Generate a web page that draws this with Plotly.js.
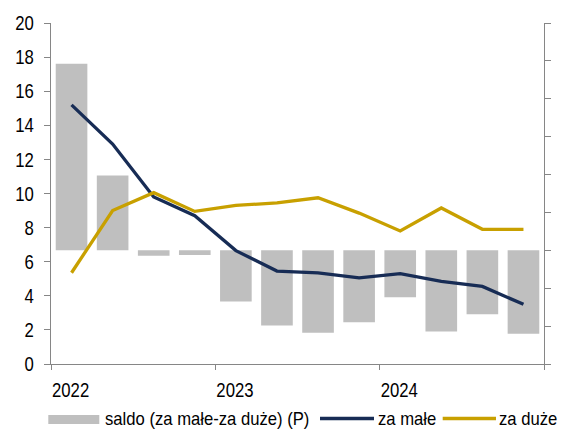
<!DOCTYPE html>
<html>
<head>
<meta charset="utf-8">
<script src="https://cdn.plot.ly/plotly-3.0.1.min.js"></script>
<style>html,body{margin:0;padding:0;background:#fff;}#chart{width:562px;height:429px;}</style>
</head>
<body>
<div id="chart"></div>
<script>
// Data
const periods = ["2022 Q1","2022 Q2","2022 Q3","2022 Q4","2023 Q1","2023 Q2","2023 Q3","2023 Q4","2024 Q1","2024 Q2","2024 Q3","2024 Q4"];
const zaMale = [15.2, 12.9, 9.8, 8.7, 6.65, 5.45, 5.35, 5.05, 5.3, 4.85, 4.55, 3.5];
const zaDuze = [5.35, 9.0, 10.05, 8.95, 9.3, 9.45, 9.75, 8.85, 7.8, 9.15, 7.9, 7.9];
const saldo = [9.85, 3.95, -0.28, -0.25, -2.7, -3.97, -4.35, -3.8, -2.47, -4.28, -3.37, -4.4];
const yearLabels = ["2022", "2023", "2024", ""];
const legendNames = ["saldo (za małe-za duże) (P)", "za małe", "za duże"];

const FONT = "'Liberation Sans', Arial, sans-serif";
const FSIZE = 20.4;
const SQUISH = 0.82;      // emulate a narrow face for tick labels
const LEG_FSIZE = 18.2;
const LEG_SQUISH = 0.915; // legend text
const NAVY = "#172c55";
const GOLD = "#c8a000";
const GREY = "#bfbfbf";
const AXIS = "#868686";

const xIdx = periods.map((_, i) => i);

const traces = [
  {type: "bar", x: xIdx, y: saldo, yaxis: "y", width: 0.77,
   marker: {color: GREY, line: {width: 0}}, name: legendNames[0], hoverinfo: "y"},
  {type: "scatter", mode: "lines", x: xIdx, y: zaMale, yaxis: "y2",
   line: {color: NAVY, width: 3.3}, name: legendNames[1]},
  {type: "scatter", mode: "lines", x: xIdx, y: zaDuze, yaxis: "y2",
   line: {color: GOLD, width: 3.3}, name: legendNames[2]}
];

const L = 51, R = 18, T = 23, B = 65, W = 562 - L - R, H = 429 - T - B;
const px = v => (v - L) / W;
const py = v => (429 - B - v) / H;

const shapes = [
  {type: "rect", xref: "paper", yref: "paper", x0: px(48.3), x1: px(99.3), y0: py(415), y1: py(424),
   fillcolor: GREY, line: {width: 0}},
  {type: "line", xref: "paper", yref: "paper", x0: px(320), x1: px(374), y0: py(418.5), y1: py(418.5),
   line: {color: NAVY, width: 3.3}},
  {type: "line", xref: "paper", yref: "paper", x0: px(442.7), x1: px(496), y0: py(418.5), y1: py(418.5),
   line: {color: GOLD, width: 3.3}}
];
const legendFont = {family: FONT, size: LEG_FSIZE, color: "#000"};
const LEGY = 418.5;
const legAnn = (x, text, w) => ({xref: "paper", yref: "paper", x: px(x), y: py(LEGY), xanchor: "left", yanchor: "middle",
  showarrow: false, text: text, font: legendFont, borderpad: 0, width: w, align: "left"});
const annotations = [
  legAnn(103.5, legendNames[0], 207),
  legAnn(377, legendNames[1], 60),
  legAnn(497.8, legendNames[2], 60)
];

const layout = {
  width: 562, height: 429,
  margin: {l: L, r: R, t: T, b: B, pad: 0},
  paper_bgcolor: "#fff", plot_bgcolor: "#fff",
  showlegend: false,
  font: {family: FONT, size: FSIZE, color: "#000"},
  xaxis: {
    range: [-0.5, 11.5], tickmode: "array", tickvals: [-0.5, 3.5, 7.5, 11.5], ticktext: yearLabels,
    ticks: "outside", ticklen: 5, tickcolor: AXIS, tickwidth: 1,
    showline: true, linecolor: AXIS, linewidth: 1,
    showgrid: false, zeroline: false, ticklabelposition: "outside right",
    ticklabelstandoff: 8,
    tickfont: {family: FONT, size: FSIZE, color: "#000"}
  },
  yaxis: {
    range: [-6, 12], dtick: 2, tick0: 0, side: "right",
    ticks: "outside", ticklen: 6, tickcolor: AXIS,
    showline: true, linecolor: AXIS, showgrid: false, zeroline: false,
    showticklabels: false
  },
  yaxis2: {
    range: [0, 20], dtick: 2, tick0: 0, side: "left", overlaying: "y",
    ticks: "outside", ticklen: 6, tickcolor: AXIS,
    showline: true, linecolor: AXIS, showgrid: false, zeroline: false,
    ticklabelstandoff: 6,
    tickfont: {family: FONT, size: FSIZE, color: "#000"}
  },
  shapes: shapes,
  annotations: annotations
};

Plotly.newPlot("chart", traces, layout, {staticPlot: true, displayModeBar: false}).then(gd => {
  gd.querySelectorAll("svg text").forEach(t => {
    if (!t.textContent) return;
    let len;
    try { len = t.getComputedTextLength(); } catch (e) { return; }
    if (!len) return;
    const isAnn = !!t.closest(".annotation");
    const k = isAnn ? LEG_SQUISH : SQUISH;
    const b0 = t.getBBox();
    t.setAttribute("textLength", (len * k).toFixed(2));
    t.setAttribute("lengthAdjust", "spacingAndGlyphs");
    if (isAnn) {
      const b1 = t.getBBox();
      const x = parseFloat(t.getAttribute("x") || "0");
      t.setAttribute("x", (x + (b0.x - b1.x)).toFixed(2));
    }
  });
});
</script>
</body>
</html>
